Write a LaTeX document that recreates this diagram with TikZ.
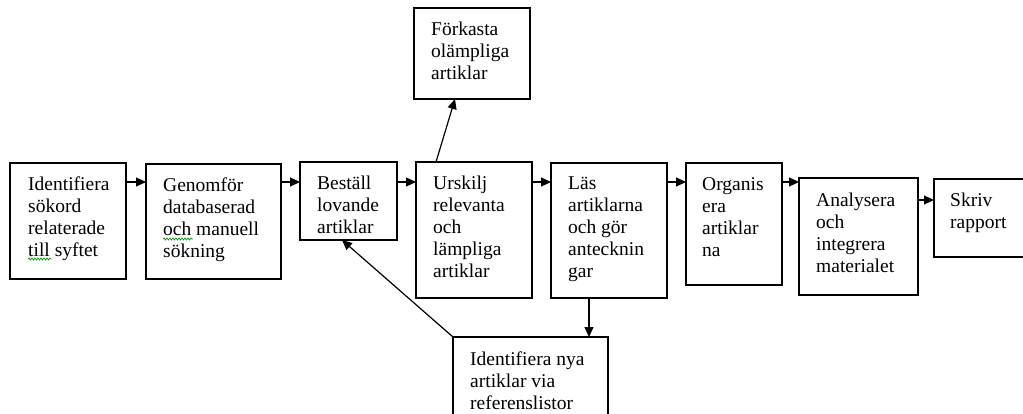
\documentclass[tikz,border=0pt]{standalone}
\usepackage{fontspec}
\setmainfont{Liberation Serif}
\usetikzlibrary{arrows.meta,decorations.pathmorphing}
\tikzset{
  box/.style={draw, line width=1.3pt, inner sep=0pt, outer sep=0pt},
  txt/.style={anchor=north west, inner sep=0pt, align=left, font=\fontsize{19.5}{22}\selectfont},
  arr/.style={line width=1.2pt, -{Triangle[length=10pt,width=9pt]}},
  squig/.style={green!60!black, line width=0.7pt, decorate, decoration={snake, amplitude=1pt, segment length=3pt}}
}
\newcommand{\mybox}[5]{%
  \node[box, anchor=north west, minimum width={(#4-#2)*1pt}, minimum height={(#5-#3)*1pt}] (#1) at (#2,#3) {};}
\begin{document}
\begin{tikzpicture}[x=1pt,y=-1pt]
\useasboundingbox (0,0) rectangle (1023,414);
\clip (0,0) rectangle (1023,414);
\mybox{b1}{10}{163}{126}{279}
\mybox{b2}{146}{164}{281}{279}
\mybox{b3}{300}{162}{397}{240}
\mybox{b4}{416}{162}{532}{298}
\mybox{f}{414}{8}{530}{99}
\mybox{b5}{551}{163}{667}{298}
\mybox{b6}{686}{163}{782}{285}
\mybox{b7}{799}{178}{918}{295}
\mybox{b8}{934}{179}{1045}{257}
\mybox{bn}{453}{337}{608}{440}

\node[txt] (t1) at ([xshift=18pt,yshift=-14pt]b1.north west) {Identifiera\\sökord\\relaterade\\till syftet};
\node[txt] (t2) at ([xshift=17pt,yshift=-14pt]b2.north west) {Genomför\\databaserad\\och manuell\\sökning};
\node[txt] (t3) at ([xshift=17pt,yshift=-14pt]b3.north west) {Beställ\\lovande\\artiklar};
\node[txt] (t4) at ([xshift=17pt,yshift=-14pt]b4.north west) {Urskilj\\relevanta\\och\\lämpliga\\artiklar};
\node[txt] (tf) at ([xshift=17pt,yshift=-14pt]f.north west) {Förkasta\\olämpliga\\artiklar};
\node[txt] (t5) at ([xshift=17pt,yshift=-14pt]b5.north west) {Läs\\artiklarna\\och gör\\antecknin\\gar};
\node[txt] (t6) at ([xshift=16pt,yshift=-14pt]b6.north west) {Organis\\era\\artiklar\\na};
\node[txt] (t7) at ([xshift=17pt,yshift=-15pt]b7.north west) {Analysera\\och\\integrera\\materialet};
\node[txt] (t8) at ([xshift=16pt,yshift=-14pt]b8.north west) {Skriv\\rapport};
\node[txt] (tn) at ([xshift=17pt,yshift=-15pt]bn.north west) {Identifiera nya\\artiklar via\\referenslistor};

\draw[squig] (28,259) -- (51,259);
\draw[squig] (163,239) -- (193,239);

\coordinate (ya) at (0,182);
\coordinate (yb) at (0,200);
\draw[arr] (b1.east |- ya) -- (b2.west |- ya);
\draw[arr] (b2.east |- ya) -- (b3.west |- ya);
\draw[arr] (b3.east |- ya) -- (b4.west |- ya);
\draw[arr] (b4.east |- ya) -- (b5.west |- ya);
\draw[arr] (b5.east |- ya) -- (b6.west |- ya);
\draw[arr] (b6.east |- ya) -- (b7.west |- ya);
\draw[arr] (b7.east |- yb) -- (b8.west |- yb);
\draw[arr] ([xshift=20pt]b4.north west) -- ([xshift=41pt]f.south west);
\draw[arr] ([xshift=38pt]b5.south west) -- ([xshift=136pt]bn.north west);
\draw[arr] (bn.north west) -- ([xshift=42pt]b3.south west);
\end{tikzpicture}
\end{document}
